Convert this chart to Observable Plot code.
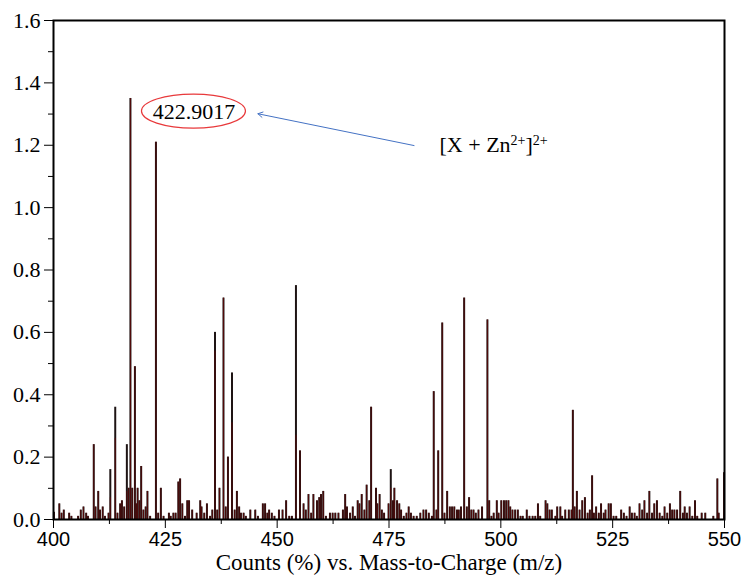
<!DOCTYPE html>
<html>
<head>
<meta charset="utf-8">
<script src="https://cdn.jsdelivr.net/npm/d3@7"></script>
<script src="https://cdn.jsdelivr.net/npm/@observablehq/plot@0.6"></script>
<style>
  html, body { margin: 0; padding: 0; background: white; }
</style>
</head>
<body>
<div id="chart"></div>
<script>
// Major peaks (m/z, intensity)
const majorMz  = [409.0, 412.7, 413.8, 416.4, 417.2, 418.2, 419.6, 422.9, 424.0, 427.9, 428.3, 436.1, 437.1, 438.0, 439.0, 439.9, 454.2, 455.1, 471.0, 475.4, 485.0, 486.0, 486.9, 491.8, 497.0, 516.1, 520.4, 548.4, 549.9];
const majorInt = [0.24, 0.16, 0.36, 0.24, 1.35, 0.49, 0.17, 1.21, 0.10, 0.12, 0.13, 0.60, 0.10, 0.71, 0.20, 0.47, 0.75, 0.22, 0.36, 0.16, 0.41, 0.22, 0.63, 0.71, 0.64, 0.35, 0.14, 0.13, 0.15];

// Peaks whose red (inner) trace stops below the black trace
const splitMz  = [412.7, 413.8, 416.4, 436.1, 439.9, 454.2, 475.4];
const splitRed = [0.07, 0.26, 0.09, 0.54, 0.31, 0.27, 0.10];

// Baseline noise peaks
const noiseMz = [
  400.1, 401.3, 401.8, 402.3, 403.5, 404.0, 405.5, 406.1, 406.7, 407.3, 407.7, 409.4, 410.0, 410.4, 411.0, 411.5, 412.3,
  414.3, 414.9, 415.3, 415.8, 416.8, 417.6, 418.5, 418.8, 419.2, 420.1, 420.6, 421.0, 421.6, 423.4, 424.6, 425.8, 426.2,
  426.8, 427.3, 428.8, 429.4, 429.9,
  430.3, 431.0, 432.0, 432.8, 433.1, 433.7, 434.3, 435.0, 435.5, 436.6, 438.5, 440.5, 441.0, 441.5, 441.9, 442.5, 443.0,
  444.0, 445.1, 445.7, 446.8, 447.3, 447.8, 448.2, 448.8, 449.4, 450.4, 451.2, 452.0, 452.7, 453.3, 455.9, 456.4, 457.0,
  457.6, 458.1, 458.9, 459.4, 459.8, 460.3,
  460.9, 461.8, 462.4, 463.0, 463.7, 464.7, 465.2, 465.6, 466.3, 466.9, 467.4, 468.0, 468.4, 468.9, 469.5, 470.0, 470.6,
  472.1, 472.4, 472.9, 473.4, 473.9, 474.9, 475.9, 476.2, 476.8, 477.3, 477.7, 478.3, 478.9, 479.4, 479.9, 480.5, 481.2,
  482.0, 482.7, 483.3, 483.9, 484.6, 485.6, 487.4, 488.0, 488.6, 489.1, 489.6, 490.2, 490.6,
  491.1, 492.4, 492.9, 493.4, 493.9, 494.4, 495.0, 495.8, 497.4, 497.9, 498.4, 499.1, 499.5, 500.1, 500.7, 501.2, 501.7,
  502.1, 502.6, 503.2, 503.8, 504.4, 504.9, 505.8, 506.4, 507.1, 507.7, 508.3, 508.8, 510.0, 510.4, 510.9, 511.4, 512.2,
  512.6, 513.3, 513.7, 514.4, 515.2, 515.8, 516.5, 517.0, 517.6, 518.2, 518.8, 519.4, 519.9, 520.8,
  521.3, 521.9, 522.4, 523.0, 523.4, 524.1, 524.6, 525.2, 525.8, 526.9, 527.5, 528.1, 528.8, 529.3, 529.9, 530.4, 531.0,
  531.6, 532.1, 532.7, 533.2, 533.8, 534.3, 534.9, 535.5, 536.1, 536.6, 537.2, 537.8, 538.3, 538.8, 539.4, 540.1, 540.7,
  541.1, 541.6, 542.2, 542.8, 543.4, 543.9, 544.9, 545.7, 547.5, 548.7
];
const noiseInt = [
  0.023, 0.05, 0.02, 0.03, 0.02, 0.01, 0.01, 0.03, 0.04, 0.02, 0.01, 0.04, 0.09, 0.03, 0.04, 0.01, 0.02,
  0.02, 0.05, 0.06, 0.04, 0.10, 0.10, 0.05, 0.10, 0.06, 0.03, 0.04, 0.09, 0.01, 0.02, 0.01, 0.02, 0.01,
  0.02, 0.02, 0.05, 0.01, 0.06,
  0.06, 0.03, 0.02, 0.06, 0.04, 0.02, 0.05, 0.01, 0.03, 0.03, 0.04, 0.03, 0.09, 0.04, 0.02, 0.02, 0.01,
  0.03, 0.03, 0.01, 0.05, 0.05, 0.02, 0.03, 0.02, 0.01, 0.03, 0.03, 0.06, 0.01, 0.01, 0.05, 0.03, 0.08,
  0.02, 0.08, 0.06, 0.07, 0.08, 0.09,
  0.01, 0.02, 0.02, 0.02, 0.02, 0.03, 0.08, 0.04, 0.02, 0.04, 0.01, 0.06, 0.05, 0.08, 0.03, 0.11, 0.06,
  0.10, 0.05, 0.08, 0.03, 0.02, 0.05, 0.06, 0.10, 0.06, 0.05, 0.03, 0.01, 0.02, 0.04, 0.02, 0.01, 0.01,
  0.02, 0.03, 0.03, 0.02, 0.01, 0.03, 0.02, 0.09, 0.04, 0.04, 0.04, 0.03, 0.03,
  0.04, 0.04, 0.07, 0.03, 0.03, 0.02, 0.03, 0.04, 0.06, 0.01, 0.02, 0.06, 0.02, 0.06, 0.06, 0.06, 0.06,
  0.04, 0.03, 0.03, 0.03, 0.01, 0.01, 0.03, 0.01, 0.01, 0.01, 0.05, 0.01, 0.06, 0.05, 0.03, 0.03, 0.01,
  0.04, 0.04, 0.01, 0.03, 0.03, 0.03, 0.04, 0.09, 0.03, 0.06, 0.07, 0.02, 0.03, 0.02,
  0.04, 0.02, 0.05, 0.02, 0.03, 0.05, 0.05, 0.01, 0.01, 0.03, 0.02, 0.01, 0.04, 0.02, 0.02, 0.01, 0.05,
  0.03, 0.06, 0.02, 0.09, 0.02, 0.05, 0.06, 0.02, 0.01, 0.04, 0.02, 0.05, 0.03, 0.03, 0.03, 0.09, 0.02,
  0.04, 0.02, 0.04, 0.01, 0.06, 0.01, 0.02, 0.02, 0.01, 0.02
];

// Axis ticks
const xMajor = [400, 425, 450, 475, 500, 525, 550];
const xMinor = [412.5, 437.5, 462.5, 487.5, 512.5, 537.5];
const yMajor = [0, 0.2, 0.4, 0.6, 0.8, 1.0, 1.2, 1.4, 1.6];
const yMinor = [0.1, 0.3, 0.5, 0.7, 0.9, 1.1, 1.3, 1.5];

// Annotations
const xLabel = "Counts (%) vs. Mass-to-Charge (m/z)";
const peakLabel = "422.9017";
const peakLabelPos = [431.4, 1.308];
const ionLabel = "[X + Zn2+]2+";
const ionParts = [["[X + Zn", false], ["2+", true], ["]", false], ["2+", true]];
const ionLabelPos = [486.3, 1.2];
const arrowFrom = [480.6, 1.199];
const arrowTo = [445.7, 1.301];

// Build tables
const peaks = [];
majorMz.forEach((m, i) => peaks.push({mz: m, h: majorInt[i]}));
noiseMz.forEach((m, i) => peaks.push({mz: m, h: noiseInt[i]}));
const redPeaks = peaks.map(p => {
  const k = splitMz.indexOf(p.mz);
  return {mz: p.mz, h: k >= 0 ? splitRed[k] : p.h};
});

const serif = "Liberation Serif";
const sans = "Liberation Sans";

const plot = Plot.plot({
  width: 744,
  height: 581,
  marginLeft: 53,
  marginRight: 20,
  marginTop: 20,
  marginBottom: 62,
  style: {fontFamily: serif, fontSize: "19px", background: "white", color: "black"},
  x: {domain: [400, 550]},
  y: {domain: [0, 1.6]},
  marks: [
    Plot.ruleX(peaks, {x: "mz", y1: 0, y2: "h", stroke: "#1e1414", strokeWidth: 2}),
    Plot.ruleX(redPeaks, {x: "mz", y1: 0, y2: "h", stroke: "#6a0606", strokeWidth: 0.7}),
    Plot.axisX({ticks: xMajor, tickSize: 9, tickPadding: 3, tickFormat: d => String(d), label: null, fontSize: 20, fontFamily: sans}),
    Plot.axisX({ticks: xMinor, tickSize: 5, tickFormat: () => "", label: null}),
    Plot.axisY({ticks: yMajor, tickSize: 9, tickPadding: 4, tickFormat: d3.format(".1f"), label: null, fontSize: 22, fontFamily: serif}),
    Plot.axisY({ticks: yMinor, tickSize: 5, tickFormat: () => "", label: null}),
    Plot.frame({stroke: "black", strokeWidth: 2}),
    Plot.text([xLabel], {frameAnchor: "bottom", dy: 50, text: d => d, fontSize: 23, fontFamily: serif, fill: "black"}),
    Plot.arrow([0], {x1: () => arrowFrom[0], y1: () => arrowFrom[1], x2: () => arrowTo[0], y2: () => arrowTo[1], stroke: "#4472c4", strokeWidth: 1, headLength: 8, bend: 0}),
    Plot.text([peakLabel], {x: () => peakLabelPos[0], y: () => peakLabelPos[1], text: d => d, fontSize: 22, fontFamily: serif, fill: "black"}),
    Plot.text([ionLabel], {x: () => ionLabelPos[0], y: () => ionLabelPos[1], text: d => d, fontSize: 22, fontFamily: serif, fill: "black", textAnchor: "start"})
  ]
});

// Superscripts in the ion label (kept as real text)
d3.select(plot).selectAll("text").filter(function() { return this.textContent === ionLabel; })
  .each(function() {
    const t = d3.select(this);
    t.text(null);
    ionParts.forEach(([s, sup]) => {
      const span = t.append("tspan").text(s);
      if (sup) span.attr("font-size", 14).attr("baseline-shift", "super");
    });
  });

// Red ellipse around the peak label, positioned with the plot's own scales
const sx = plot.scale("x"), sy = plot.scale("y");
d3.select(plot).append("ellipse")
  .attr("cx", sx.apply(peakLabelPos[0]))
  .attr("cy", sy.apply(peakLabelPos[1]))
  .attr("rx", 52)
  .attr("ry", 17)
  .attr("fill", "none")
  .attr("stroke", "#e8393b")
  .attr("stroke-width", 1.2);

document.getElementById("chart").appendChild(plot);
</script>
</body>
</html>
